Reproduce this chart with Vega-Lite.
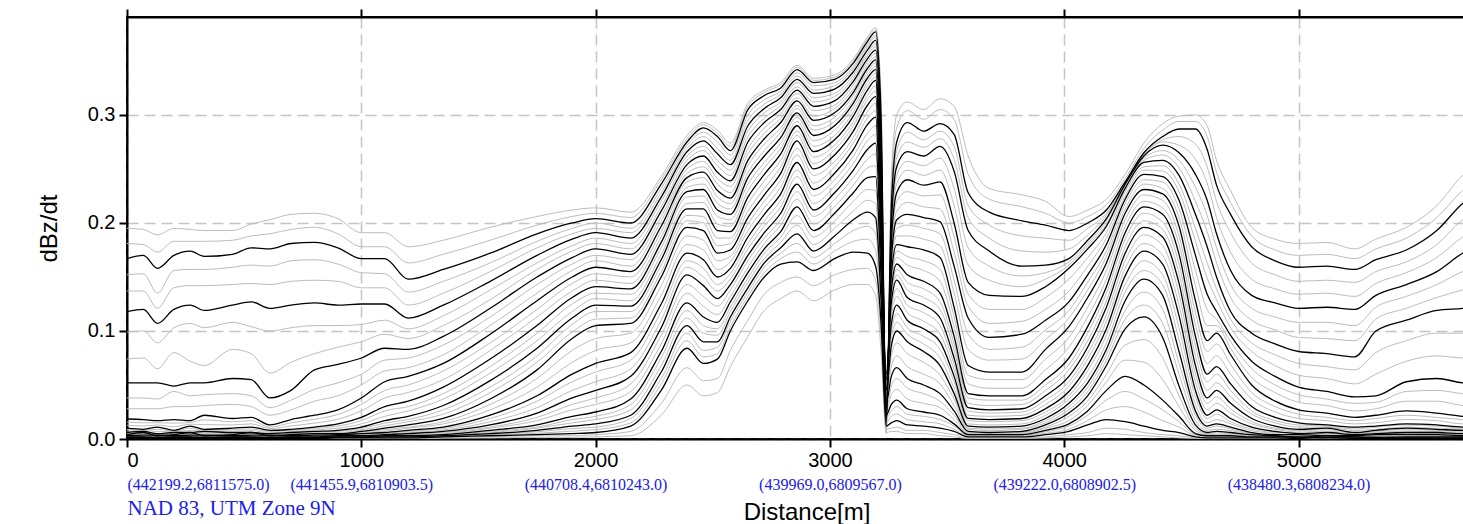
{
"$schema":"https://vega.github.io/schema/vega-lite/v6.json",
"width":1359,"height":422,
"autosize":"none",
"padding":{"left":127,"top":17,"right":0,"bottom":85},
"background":"white",
"config":{"view":{"stroke":"black","strokeWidth":2},"font":"Liberation Sans"},
"datasets":{"d":[
{"x":0,"g01":0.195,"g02":0.181,"k01":0.167,"g03":0.152,"g04":0.137,"k02":0.118,"g05":0.099,"g06":0.074,"k03":0.052,"g07":0.038,"g08":0.028,"k04":0.0185,"g09":0.0157,"g10":0.0128,"k05":0.010,"g11":0.0087,"g12":0.0073,"k06":0.006,"g13":0.0053,"g14":0.0047,"k07":0.004,"g15":0.0037,"g16":0.0033,"k08":0.003,"g17":0.0027,"g18":0.0023,"k09":0.002,"g19":0.0018,"g20":0.0017,"k10":0.0015,"g21":0.0013,"g22":0.0012,"k11":0.001,"g23":0.0008,"g24":0.0007,"k12":0.0005,"g25":0.0003,"g26":0.0001},
{"x":70,"g01":0.194,"g02":0.180,"k01":0.170,"g03":0.153,"g04":0.137,"k02":0.120,"g05":0.100,"g06":0.075,"k03":0.052,"g07":0.038,"g08":0.028,"k04":0.018,"g09":0.015,"g10":0.012,"k05":0.009,"g11":0.0083,"g12":0.0077,"k06":0.007,"g13":0.006,"g14":0.005,"k07":0.006,"g15":0.005,"g16":0.004,"k08":0.0035,"g17":0.003,"g18":0.0025,"k09":0.002,"g19":0.0018,"g20":0.0016,"k10":0.0014,"g21":0.0012,"g22":0.001,"k11":0.0009,"g23":0.0007,"g24":0.0005,"k12":0.0004,"g25":0.0002,"g26":0.0001},
{"x":130,"g01":0.189,"g02":0.173,"k01":0.158,"g03":0.135,"g04":0.121,"k02":0.107,"g05":0.089,"g06":0.065,"k03":0.052,"g07":0.037,"g08":0.028,"k04":0.017,"g09":0.015,"g10":0.013,"k05":0.011,"g11":0.009,"g12":0.007,"k06":0.005,"g13":0.0047,"g14":0.0043,"k07":0.003,"g15":0.0045,"g16":0.002,"k08":0.0035,"g17":0.0015,"g18":0.003,"k09":0.001,"g19":0.002,"g20":0.0012,"k10":0.0018,"g21":0.0008,"g22":0.0014,"k11":0.0006,"g23":0.001,"g24":0.0004,"k12":0.0007,"g25":0.0002,"g26":0.0003},
{"x":200,"g01":0.195,"g02":0.183,"k01":0.170,"g03":0.156,"g04":0.140,"k02":0.120,"g05":0.103,"g06":0.080,"k03":0.049,"g07":0.044,"g08":0.030,"k04":0.018,"g09":0.0147,"g10":0.0113,"k05":0.008,"g11":0.0073,"g12":0.0067,"k06":0.006,"g13":0.0057,"g14":0.0053,"k07":0.004,"g15":0.0037,"g16":0.0033,"k08":0.003,"g17":0.0027,"g18":0.0023,"k09":0.002,"g19":0.0018,"g20":0.0017,"k10":0.0015,"g21":0.0013,"g22":0.0012,"k11":0.001,"g23":0.0008,"g24":0.0007,"k12":0.0005,"g25":0.0003,"g26":0.0001},
{"x":270,"g01":0.194,"g02":0.183,"k01":0.174,"g03":0.157,"g04":0.142,"k02":0.124,"g05":0.107,"g06":0.072,"k03":0.052,"g07":0.040,"g08":0.030,"k04":0.017,"g09":0.0153,"g10":0.0137,"k05":0.012,"g11":0.010,"g12":0.008,"k06":0.006,"g13":0.0053,"g14":0.0047,"k07":0.006,"g15":0.005,"g16":0.004,"k08":0.0035,"g17":0.003,"g18":0.0025,"k09":0.002,"g19":0.0018,"g20":0.0016,"k10":0.0014,"g21":0.0012,"g22":0.001,"k11":0.0009,"g23":0.0007,"g24":0.0005,"k12":0.0004,"g25":0.0002,"g26":0.0001},
{"x":330,"g01":0.193,"g02":0.183,"k01":0.169,"g03":0.157,"g04":0.142,"k02":0.119,"g05":0.103,"g06":0.068,"k03":0.052,"g07":0.041,"g08":0.031,"k04":0.022,"g09":0.0177,"g10":0.0133,"k05":0.009,"g11":0.0083,"g12":0.0077,"k06":0.007,"g13":0.006,"g14":0.005,"k07":0.003,"g15":0.0045,"g16":0.002,"k08":0.0035,"g17":0.0015,"g18":0.003,"k09":0.001,"g19":0.002,"g20":0.0012,"k10":0.0018,"g21":0.0008,"g22":0.0014,"k11":0.0006,"g23":0.001,"g24":0.0004,"k12":0.0007,"g25":0.0002,"g26":0.0003},
{"x":450,"g01":0.193,"g02":0.184,"k01":0.171,"g03":0.159,"g04":0.143,"k02":0.124,"g05":0.108,"g06":0.083,"k03":0.056,"g07":0.042,"g08":0.032,"k04":0.019,"g09":0.016,"g10":0.013,"k05":0.010,"g11":0.0087,"g12":0.0073,"k06":0.006,"g13":0.0053,"g14":0.0047,"k07":0.004,"g15":0.0037,"g16":0.0033,"k08":0.003,"g17":0.0027,"g18":0.0023,"k09":0.002,"g19":0.0018,"g20":0.0017,"k10":0.0015,"g21":0.0013,"g22":0.0012,"k11":0.001,"g23":0.0008,"g24":0.0007,"k12":0.0005,"g25":0.0003,"g26":0.0001},
{"x":530,"g01":0.199,"g02":0.188,"k01":0.177,"g03":0.161,"g04":0.144,"k02":0.127,"g05":0.104,"g06":0.079,"k03":0.055,"g07":0.040,"g08":0.030,"k04":0.020,"g09":0.017,"g10":0.014,"k05":0.011,"g11":0.0093,"g12":0.0077,"k06":0.006,"g13":0.0057,"g14":0.0053,"k07":0.006,"g15":0.005,"g16":0.004,"k08":0.0035,"g17":0.003,"g18":0.0025,"k09":0.002,"g19":0.0018,"g20":0.0016,"k10":0.0014,"g21":0.0012,"g22":0.001,"k11":0.0009,"g23":0.0007,"g24":0.0005,"k12":0.0004,"g25":0.0002,"g26":0.0001},
{"x":610,"g01":0.203,"g02":0.190,"k01":0.176,"g03":0.160,"g04":0.143,"k02":0.121,"g05":0.100,"g06":0.061,"k03":0.038,"g07":0.029,"g08":0.022,"k04":0.013,"g09":0.011,"g10":0.0097,"k05":0.008,"g11":0.007,"g12":0.006,"k06":0.005,"g13":0.0043,"g14":0.0037,"k07":0.003,"g15":0.0045,"g16":0.002,"k08":0.0035,"g17":0.0015,"g18":0.003,"k09":0.001,"g19":0.002,"g20":0.0012,"k10":0.0018,"g21":0.0008,"g22":0.0014,"k11":0.0006,"g23":0.001,"g24":0.0004,"k12":0.0007,"g25":0.0002,"g26":0.0003},
{"x":700,"g01":0.208,"g02":0.194,"k01":0.181,"g03":0.165,"g04":0.146,"k02":0.124,"g05":0.103,"g06":0.071,"k03":0.045,"g07":0.036,"g08":0.027,"k04":0.018,"g09":0.015,"g10":0.012,"k05":0.009,"g11":0.008,"g12":0.007,"k06":0.006,"g13":0.0053,"g14":0.0047,"k07":0.004,"g15":0.0037,"g16":0.0033,"k08":0.003,"g17":0.0027,"g18":0.0023,"k09":0.002,"g19":0.0018,"g20":0.0017,"k10":0.0015,"g21":0.0013,"g22":0.0012,"k11":0.001,"g23":0.0008,"g24":0.0007,"k12":0.0005,"g25":0.0003,"g26":0.0001},
{"x":800,"g01":0.209,"g02":0.196,"k01":0.182,"g03":0.166,"g04":0.147,"k02":0.126,"g05":0.105,"g06":0.079,"k03":0.064,"g07":0.046,"g08":0.035,"k04":0.022,"g09":0.0183,"g10":0.0147,"k05":0.011,"g11":0.0097,"g12":0.0083,"k06":0.007,"g13":0.0063,"g14":0.0057,"k07":0.005,"g15":0.0045,"g16":0.004,"k08":0.0035,"g17":0.003,"g18":0.0025,"k09":0.002,"g19":0.0018,"g20":0.0016,"k10":0.0014,"g21":0.0012,"g22":0.001,"k11":0.0009,"g23":0.0007,"g24":0.0005,"k12":0.0004,"g25":0.0002,"g26":0.0001},
{"x":900,"g01":0.204,"g02":0.190,"k01":0.177,"g03":0.162,"g04":0.146,"k02":0.124,"g05":0.105,"g06":0.085,"k03":0.069,"g07":0.052,"g08":0.040,"k04":0.027,"g09":0.0227,"g10":0.0183,"k05":0.014,"g11":0.012,"g12":0.010,"k06":0.008,"g13":0.007,"g14":0.006,"k07":0.005,"g15":0.0047,"g16":0.0043,"k08":0.004,"g17":0.0037,"g18":0.0033,"k09":0.003,"g19":0.0027,"g20":0.0023,"k10":0.002,"g21":0.0018,"g22":0.0017,"k11":0.0015,"g23":0.0013,"g24":0.0012,"k12":0.001,"g25":0.0007,"g26":0.0003},
{"x":1000,"g01":0.191,"g02":0.178,"k01":0.167,"g03":0.154,"g04":0.140,"k02":0.125,"g05":0.106,"g06":0.090,"k03":0.075,"g07":0.060,"g08":0.050,"k04":0.038,"g09":0.032,"g10":0.026,"k05":0.020,"g11":0.017,"g12":0.014,"k06":0.011,"g13":0.0097,"g14":0.0083,"k07":0.007,"g15":0.0063,"g16":0.0057,"k08":0.005,"g17":0.0043,"g18":0.0037,"k09":0.003,"g19":0.0027,"g20":0.0023,"k10":0.002,"g21":0.0018,"g22":0.0017,"k11":0.0015,"g23":0.0013,"g24":0.0012,"k12":0.001,"g25":0.0007,"g26":0.0003},
{"x":1100,"g01":0.191,"g02":0.178,"k01":0.167,"g03":0.153,"g04":0.140,"k02":0.125,"g05":0.110,"g06":0.097,"k03":0.084,"g07":0.073,"g08":0.063,"k04":0.053,"g09":0.045,"g10":0.038,"k05":0.030,"g11":0.026,"g12":0.021,"k06":0.017,"g13":0.0147,"g14":0.0123,"k07":0.010,"g15":0.0087,"g16":0.0073,"k08":0.006,"g17":0.0053,"g18":0.0047,"k09":0.004,"g19":0.0037,"g20":0.0033,"k10":0.003,"g21":0.0027,"g22":0.0023,"k11":0.002,"g23":0.0017,"g24":0.0013,"k12":0.001,"g25":0.0007,"g26":0.0003},
{"x":1200,"g01":0.178,"g02":0.163,"k01":0.148,"g03":0.136,"g04":0.124,"k02":0.112,"g05":0.102,"g06":0.093,"k03":0.083,"g07":0.075,"g08":0.066,"k04":0.058,"g09":0.050,"g10":0.043,"k05":0.035,"g11":0.030,"g12":0.026,"k06":0.021,"g13":0.018,"g14":0.016,"k07":0.013,"g15":0.011,"g16":0.010,"k08":0.008,"g17":0.007,"g18":0.006,"k09":0.005,"g19":0.0043,"g20":0.0037,"k10":0.003,"g21":0.0027,"g22":0.0023,"k11":0.002,"g23":0.0017,"g24":0.0013,"k12":0.001,"g25":0.0007,"g26":0.0003},
{"x":1350,"g01":0.184,"g02":0.171,"k01":0.157,"g03":0.146,"g04":0.135,"k02":0.124,"g05":0.114,"g06":0.105,"k03":0.095,"g07":0.087,"g08":0.078,"k04":0.070,"g09":0.063,"g10":0.055,"k05":0.048,"g11":0.042,"g12":0.037,"k06":0.031,"g13":0.027,"g14":0.023,"k07":0.019,"g15":0.016,"g16":0.014,"k08":0.011,"g17":0.0097,"g18":0.0083,"k09":0.007,"g19":0.006,"g20":0.005,"k10":0.004,"g21":0.0037,"g22":0.0033,"k11":0.003,"g23":0.0027,"g24":0.0023,"k12":0.002,"g25":0.0013,"g26":0.0007},
{"x":1550,"g01":0.196,"g02":0.184,"k01":0.172,"g03":0.163,"g04":0.155,"k02":0.146,"g05":0.138,"g06":0.129,"k03":0.121,"g07":0.113,"g08":0.105,"k04":0.097,"g09":0.089,"g10":0.082,"k05":0.074,"g11":0.067,"g12":0.061,"k06":0.054,"g13":0.048,"g14":0.043,"k07":0.037,"g15":0.032,"g16":0.027,"k08":0.022,"g17":0.019,"g18":0.016,"k09":0.013,"g19":0.011,"g20":0.010,"k10":0.008,"g21":0.007,"g22":0.006,"k11":0.005,"g23":0.0043,"g24":0.0037,"k12":0.003,"g25":0.002,"g26":0.001},
{"x":1750,"g01":0.206,"g02":0.198,"k01":0.190,"g03":0.183,"g04":0.177,"k02":0.170,"g05":0.163,"g06":0.157,"k03":0.150,"g07":0.143,"g08":0.135,"k04":0.128,"g09":0.120,"g10":0.113,"k05":0.105,"g11":0.098,"g12":0.091,"k06":0.084,"g13":0.077,"g14":0.071,"k07":0.064,"g15":0.056,"g16":0.048,"k08":0.040,"g17":0.035,"g18":0.029,"k09":0.024,"g19":0.020,"g20":0.017,"k10":0.013,"g21":0.011,"g22":0.010,"k11":0.008,"g23":0.0067,"g24":0.0053,"k12":0.004,"g25":0.003,"g26":0.0015},
{"x":1900,"g01":0.212,"g02":0.206,"k01":0.200,"g03":0.195,"g04":0.190,"k02":0.185,"g05":0.179,"g06":0.174,"k03":0.168,"g07":0.162,"g08":0.156,"k04":0.150,"g09":0.144,"g10":0.137,"k05":0.131,"g11":0.125,"g12":0.118,"k06":0.112,"g13":0.106,"g14":0.099,"k07":0.093,"g15":0.082,"g16":0.071,"k08":0.060,"g17":0.053,"g18":0.045,"k09":0.038,"g19":0.032,"g20":0.027,"k10":0.021,"g21":0.018,"g22":0.015,"k11":0.012,"g23":0.0097,"g24":0.0073,"k12":0.005,"g25":0.003,"g26":0.0015},
{"x":2000,"g01":0.214,"g02":0.209,"k01":0.204,"g03":0.200,"g04":0.195,"k02":0.191,"g05":0.186,"g06":0.181,"k03":0.176,"g07":0.170,"g08":0.165,"k04":0.159,"g09":0.153,"g10":0.147,"k05":0.141,"g11":0.135,"g12":0.130,"k06":0.124,"g13":0.118,"g14":0.111,"k07":0.105,"g15":0.093,"g16":0.082,"k08":0.070,"g17":0.062,"g18":0.053,"k09":0.045,"g19":0.038,"g20":0.032,"k10":0.025,"g21":0.021,"g22":0.018,"k11":0.014,"g23":0.011,"g24":0.0087,"k12":0.006,"g25":0.004,"g26":0.002},
{"x":2150,"g01":0.210,"g02":0.205,"k01":0.200,"g03":0.195,"g04":0.191,"k02":0.186,"g05":0.181,"g06":0.176,"k03":0.171,"g07":0.166,"g08":0.160,"k04":0.155,"g09":0.150,"g10":0.144,"k05":0.139,"g11":0.134,"g12":0.128,"k06":0.123,"g13":0.118,"g14":0.112,"k07":0.107,"g15":0.098,"g16":0.089,"k08":0.080,"g17":0.073,"g18":0.065,"k09":0.058,"g19":0.051,"g20":0.044,"k10":0.037,"g21":0.032,"g22":0.027,"k11":0.022,"g23":0.019,"g24":0.015,"k12":0.012,"g25":0.007,"g26":0.003},
{"x":2280,"g01":0.243,"g02":0.240,"k01":0.236,"g03":0.232,"g04":0.228,"k02":0.224,"g05":0.220,"g06":0.215,"k03":0.211,"g07":0.206,"g08":0.202,"k04":0.197,"g09":0.192,"g10":0.187,"k05":0.182,"g11":0.177,"g12":0.171,"k06":0.166,"g13":0.161,"g14":0.155,"k07":0.150,"g15":0.142,"g16":0.133,"k08":0.125,"g17":0.118,"g18":0.110,"k09":0.103,"g19":0.096,"g20":0.088,"k10":0.081,"g21":0.075,"g22":0.068,"k11":0.062,"g23":0.056,"g24":0.051,"k12":0.045,"g25":0.033,"g26":0.022},
{"x":2390,"g01":0.281,"g02":0.278,"k01":0.275,"g03":0.272,"g04":0.269,"k02":0.266,"g05":0.262,"g06":0.258,"k03":0.254,"g07":0.250,"g08":0.246,"k04":0.242,"g09":0.238,"g10":0.233,"k05":0.229,"g11":0.224,"g12":0.218,"k06":0.213,"g13":0.207,"g14":0.202,"k07":0.196,"g15":0.188,"g16":0.180,"k08":0.172,"g17":0.165,"g18":0.159,"k09":0.152,"g19":0.143,"g20":0.135,"k10":0.126,"g21":0.119,"g22":0.112,"k11":0.105,"g23":0.098,"g24":0.091,"k12":0.084,"g25":0.066,"g26":0.050},
{"x":2460,"g01":0.293,"g02":0.291,"k01":0.288,"g03":0.284,"g04":0.280,"k02":0.276,"g05":0.271,"g06":0.267,"k03":0.262,"g07":0.257,"g08":0.252,"k04":0.247,"g09":0.242,"g10":0.236,"k05":0.231,"g11":0.225,"g12":0.219,"k06":0.213,"g13":0.206,"g14":0.200,"k07":0.193,"g15":0.184,"g16":0.175,"k08":0.166,"g17":0.158,"g18":0.150,"k09":0.142,"g19":0.132,"g20":0.123,"k10":0.113,"g21":0.105,"g22":0.098,"k11":0.090,"g23":0.082,"g24":0.076,"k12":0.070,"g25":0.054,"g26":0.040},
{"x":2520,"g01":0.286,"g02":0.283,"k01":0.280,"g03":0.275,"g04":0.269,"k02":0.264,"g05":0.258,"g06":0.253,"k03":0.247,"g07":0.241,"g08":0.236,"k04":0.230,"g09":0.224,"g10":0.218,"k05":0.212,"g11":0.206,"g12":0.199,"k06":0.193,"g13":0.186,"g14":0.179,"k07":0.172,"g15":0.165,"g16":0.157,"k08":0.150,"g17":0.143,"g18":0.137,"k09":0.130,"g19":0.123,"g20":0.115,"k10":0.108,"g21":0.102,"g22":0.096,"k11":0.090,"g23":0.085,"g24":0.079,"k12":0.074,"g25":0.056,"g26":0.043},
{"x":2575,"g01":0.274,"g02":0.271,"k01":0.267,"g03":0.263,"g04":0.258,"k02":0.254,"g05":0.249,"g06":0.244,"k03":0.239,"g07":0.234,"g08":0.228,"k04":0.223,"g09":0.218,"g10":0.213,"k05":0.208,"g11":0.203,"g12":0.197,"k06":0.192,"g13":0.186,"g14":0.181,"k07":0.175,"g15":0.169,"g16":0.164,"k08":0.158,"g17":0.153,"g18":0.148,"k09":0.143,"g19":0.138,"g20":0.132,"k10":0.127,"g21":0.122,"g22":0.118,"k11":0.113,"g23":0.109,"g24":0.104,"k12":0.100,"g25":0.082,"g26":0.067},
{"x":2650,"g01":0.311,"g02":0.308,"k01":0.305,"g03":0.300,"g04":0.295,"k02":0.290,"g05":0.285,"g06":0.280,"k03":0.275,"g07":0.269,"g08":0.264,"k04":0.258,"g09":0.253,"g10":0.247,"k05":0.242,"g11":0.236,"g12":0.230,"k06":0.224,"g13":0.218,"g14":0.211,"k07":0.205,"g15":0.199,"g16":0.193,"k08":0.187,"g17":0.181,"g18":0.176,"k09":0.170,"g19":0.165,"g20":0.159,"k10":0.154,"g21":0.149,"g22":0.145,"k11":0.140,"g23":0.136,"g24":0.132,"k12":0.128,"g25":0.110,"g26":0.095},
{"x":2720,"g01":0.323,"g02":0.321,"k01":0.318,"g03":0.314,"g04":0.310,"k02":0.306,"g05":0.302,"g06":0.297,"k03":0.293,"g07":0.288,"g08":0.283,"k04":0.278,"g09":0.273,"g10":0.267,"k05":0.262,"g11":0.256,"g12":0.251,"k06":0.245,"g13":0.239,"g14":0.232,"k07":0.226,"g15":0.220,"g16":0.214,"k08":0.208,"g17":0.202,"g18":0.197,"k09":0.191,"g19":0.186,"g20":0.181,"k10":0.176,"g21":0.172,"g22":0.167,"k11":0.163,"g23":0.159,"g24":0.154,"k12":0.150,"g25":0.134,"g26":0.119},
{"x":2790,"g01":0.330,"g02":0.328,"k01":0.325,"g03":0.322,"g04":0.319,"k02":0.316,"g05":0.312,"g06":0.309,"k03":0.305,"g07":0.301,"g08":0.297,"k04":0.293,"g09":0.288,"g10":0.284,"k05":0.279,"g11":0.274,"g12":0.269,"k06":0.264,"g13":0.258,"g14":0.252,"k07":0.246,"g15":0.240,"g16":0.233,"k08":0.227,"g17":0.221,"g18":0.215,"k09":0.209,"g19":0.203,"g20":0.198,"k10":0.192,"g21":0.187,"g22":0.182,"k11":0.177,"g23":0.172,"g24":0.167,"k12":0.162,"g25":0.145,"g26":0.130},
{"x":2860,"g01":0.346,"g02":0.344,"k01":0.342,"g03":0.339,"g04":0.336,"k02":0.333,"g05":0.330,"g06":0.326,"k03":0.323,"g07":0.320,"g08":0.316,"k04":0.313,"g09":0.309,"g10":0.306,"k05":0.302,"g11":0.298,"g12":0.294,"k06":0.290,"g13":0.285,"g14":0.281,"k07":0.276,"g15":0.269,"g16":0.263,"k08":0.256,"g17":0.249,"g18":0.243,"k09":0.236,"g19":0.229,"g20":0.222,"k10":0.215,"g21":0.207,"g22":0.198,"k11":0.190,"g23":0.181,"g24":0.173,"k12":0.164,"g25":0.150,"g26":0.137},
{"x":2930,"g01":0.334,"g02":0.332,"k01":0.330,"g03":0.327,"g04":0.323,"k02":0.320,"g05":0.316,"g06":0.312,"k03":0.308,"g07":0.304,"g08":0.299,"k04":0.295,"g09":0.290,"g10":0.286,"k05":0.281,"g11":0.276,"g12":0.271,"k06":0.266,"g13":0.261,"g14":0.255,"k07":0.250,"g15":0.244,"g16":0.237,"k08":0.231,"g17":0.225,"g18":0.218,"k09":0.212,"g19":0.206,"g20":0.199,"k10":0.193,"g21":0.187,"g22":0.180,"k11":0.174,"g23":0.168,"g24":0.162,"k12":0.156,"g25":0.142,"g26":0.128},
{"x":3020,"g01":0.337,"g02":0.335,"k01":0.333,"g03":0.330,"g04":0.327,"k02":0.324,"g05":0.320,"g06":0.317,"k03":0.313,"g07":0.309,"g08":0.306,"k04":0.302,"g09":0.298,"g10":0.294,"k05":0.290,"g11":0.286,"g12":0.281,"k06":0.277,"g13":0.272,"g14":0.268,"k07":0.263,"g15":0.257,"g16":0.252,"k08":0.246,"g17":0.240,"g18":0.234,"k09":0.228,"g19":0.222,"g20":0.215,"k10":0.209,"g21":0.202,"g22":0.195,"k11":0.188,"g23":0.181,"g24":0.174,"k12":0.167,"g25":0.152,"g26":0.138},
{"x":3100,"g01":0.352,"g02":0.350,"k01":0.348,"g03":0.345,"g04":0.343,"k02":0.340,"g05":0.337,"g06":0.334,"k03":0.331,"g07":0.328,"g08":0.324,"k04":0.321,"g09":0.318,"g10":0.314,"k05":0.311,"g11":0.307,"g12":0.303,"k06":0.299,"g13":0.294,"g14":0.290,"k07":0.285,"g15":0.279,"g16":0.274,"k08":0.268,"g17":0.262,"g18":0.255,"k09":0.249,"g19":0.242,"g20":0.235,"k10":0.228,"g21":0.220,"g22":0.211,"k11":0.203,"g23":0.193,"g24":0.183,"k12":0.173,"g25":0.157,"g26":0.143},
{"x":3160,"g01":0.372,"g02":0.370,"k01":0.368,"g03":0.365,"g04":0.363,"k02":0.360,"g05":0.357,"g06":0.355,"k03":0.352,"g07":0.349,"g08":0.346,"k04":0.343,"g09":0.340,"g10":0.337,"k05":0.334,"g11":0.330,"g12":0.327,"k06":0.323,"g13":0.318,"g14":0.314,"k07":0.309,"g15":0.303,"g16":0.297,"k08":0.291,"g17":0.283,"g18":0.276,"k09":0.268,"g19":0.259,"g20":0.251,"k10":0.242,"g21":0.231,"g22":0.221,"k11":0.210,"g23":0.197,"g24":0.185,"k12":0.172,"g25":0.158,"g26":0.143},
{"x":3195,"g01":0.381,"g02":0.379,"k01":0.377,"g03":0.374,"g04":0.372,"k02":0.369,"g05":0.366,"g06":0.363,"k03":0.360,"g07":0.357,"g08":0.354,"k04":0.351,"g09":0.348,"g10":0.345,"k05":0.342,"g11":0.339,"g12":0.335,"k06":0.332,"g13":0.327,"g14":0.322,"k07":0.317,"g15":0.311,"g16":0.304,"k08":0.298,"g17":0.290,"g18":0.282,"k09":0.274,"g19":0.264,"g20":0.253,"k10":0.243,"g21":0.230,"g22":0.218,"k11":0.205,"g23":0.190,"g24":0.175,"k12":0.160,"g25":0.147,"g26":0.133},
{"x":3218,"g01":0.320,"g02":0.310,"k01":0.300,"g03":0.295,"g04":0.290,"k02":0.285,"g05":0.280,"g06":0.275,"k03":0.270,"g07":0.265,"g08":0.260,"k04":0.255,"g09":0.250,"g10":0.245,"k05":0.240,"g11":0.235,"g12":0.230,"k06":0.225,"g13":0.219,"g14":0.214,"k07":0.208,"g15":0.202,"g16":0.196,"k08":0.190,"g17":0.184,"g18":0.178,"k09":0.172,"g19":0.165,"g20":0.159,"k10":0.152,"g21":0.145,"g22":0.137,"k11":0.130,"g23":0.123,"g24":0.115,"k12":0.108,"g25":0.095,"g26":0.082},
{"x":3240,"g01":0.005,"g02":0.008,"k01":0.012,"g03":0.013,"g04":0.015,"k02":0.016,"g05":0.017,"g06":0.019,"k03":0.020,"g07":0.022,"g08":0.024,"k04":0.026,"g09":0.029,"g10":0.031,"k05":0.034,"g11":0.038,"g12":0.042,"k06":0.046,"g13":0.051,"g14":0.055,"k07":0.060,"g15":0.058,"g16":0.057,"k08":0.055,"g17":0.052,"g18":0.048,"k09":0.045,"g19":0.041,"g20":0.037,"k10":0.033,"g21":0.029,"g22":0.026,"k11":0.022,"g23":0.019,"g24":0.015,"k12":0.012,"g25":0.009,"g26":0.006},
{"x":3262,"g01":0.240,"g02":0.228,"k01":0.215,"g03":0.209,"g04":0.204,"k02":0.198,"g05":0.193,"g06":0.187,"k03":0.182,"g07":0.177,"g08":0.171,"k04":0.166,"g09":0.161,"g10":0.157,"k05":0.152,"g11":0.147,"g12":0.143,"k06":0.138,"g13":0.134,"g14":0.130,"k07":0.126,"g15":0.119,"g16":0.113,"k08":0.106,"g17":0.099,"g18":0.093,"k09":0.086,"g19":0.077,"g20":0.067,"k10":0.058,"g21":0.049,"g22":0.041,"k11":0.032,"g23":0.026,"g24":0.021,"k12":0.015,"g25":0.010,"g26":0.007},
{"x":3285,"g01":0.300,"g02":0.288,"k01":0.275,"g03":0.267,"g04":0.260,"k02":0.252,"g05":0.244,"g06":0.236,"k03":0.228,"g07":0.220,"g08":0.211,"k04":0.203,"g09":0.195,"g10":0.188,"k05":0.180,"g11":0.174,"g12":0.168,"k06":0.162,"g13":0.157,"g14":0.152,"k07":0.147,"g15":0.139,"g16":0.132,"k08":0.124,"g17":0.116,"g18":0.108,"k09":0.100,"g19":0.089,"g20":0.077,"k10":0.066,"g21":0.056,"g22":0.046,"k11":0.036,"g23":0.030,"g24":0.023,"k12":0.017,"g25":0.011,"g26":0.007},
{"x":3330,"g01":0.312,"g02":0.304,"k01":0.293,"g03":0.284,"g04":0.275,"k02":0.266,"g05":0.257,"g06":0.249,"k03":0.240,"g07":0.229,"g08":0.219,"k04":0.208,"g09":0.198,"g10":0.188,"k05":0.178,"g11":0.169,"g12":0.161,"k06":0.152,"g13":0.145,"g14":0.138,"k07":0.131,"g15":0.124,"g16":0.117,"k08":0.110,"g17":0.103,"g18":0.097,"k09":0.090,"g19":0.079,"g20":0.067,"k10":0.056,"g21":0.047,"g22":0.037,"k11":0.028,"g23":0.023,"g24":0.018,"k12":0.013,"g25":0.008,"g26":0.005},
{"x":3400,"g01":0.305,"g02":0.296,"k01":0.285,"g03":0.277,"g04":0.270,"k02":0.262,"g05":0.253,"g06":0.244,"k03":0.235,"g07":0.225,"g08":0.215,"k04":0.205,"g09":0.195,"g10":0.185,"k05":0.175,"g11":0.165,"g12":0.156,"k06":0.146,"g13":0.139,"g14":0.131,"k07":0.124,"g15":0.117,"g16":0.109,"k08":0.102,"g17":0.095,"g18":0.088,"k09":0.081,"g19":0.071,"g20":0.060,"k10":0.050,"g21":0.042,"g22":0.033,"k11":0.025,"g23":0.021,"g24":0.016,"k12":0.012,"g25":0.008,"g26":0.005},
{"x":3470,"g01":0.315,"g02":0.305,"k01":0.292,"g03":0.285,"g04":0.278,"k02":0.271,"g05":0.260,"g06":0.249,"k03":0.238,"g07":0.226,"g08":0.213,"k04":0.201,"g09":0.190,"g10":0.179,"k05":0.168,"g11":0.157,"g12":0.146,"k06":0.135,"g13":0.127,"g14":0.120,"k07":0.112,"g15":0.105,"g16":0.097,"k08":0.090,"g17":0.083,"g18":0.075,"k09":0.068,"g19":0.059,"g20":0.051,"k10":0.042,"g21":0.035,"g22":0.029,"k11":0.022,"g23":0.018,"g24":0.014,"k12":0.010,"g25":0.006,"g26":0.003},
{"x":3530,"g01":0.308,"g02":0.296,"k01":0.282,"g03":0.271,"g04":0.259,"k02":0.248,"g05":0.232,"g06":0.216,"k03":0.200,"g07":0.187,"g08":0.173,"k04":0.160,"g09":0.147,"g10":0.135,"k05":0.122,"g11":0.113,"g12":0.104,"k06":0.095,"g13":0.088,"g14":0.082,"k07":0.075,"g15":0.069,"g16":0.064,"k08":0.058,"g17":0.053,"g18":0.047,"k09":0.042,"g19":0.037,"g20":0.031,"k10":0.026,"g21":0.022,"g22":0.018,"k11":0.014,"g23":0.012,"g24":0.009,"k12":0.007,"g25":0.004,"g26":0.002},
{"x":3590,"g01":0.262,"g02":0.245,"k01":0.228,"g03":0.216,"g04":0.205,"k02":0.193,"g05":0.177,"g06":0.161,"k03":0.145,"g07":0.134,"g08":0.123,"k04":0.112,"g09":0.097,"g10":0.083,"k05":0.068,"g11":0.059,"g12":0.051,"k06":0.042,"g13":0.038,"g14":0.033,"k07":0.029,"g15":0.026,"g16":0.022,"k08":0.019,"g17":0.017,"g18":0.014,"k09":0.012,"g19":0.010,"g20":0.009,"k10":0.007,"g21":0.006,"g22":0.005,"k11":0.004,"g23":0.0033,"g24":0.0027,"k12":0.002,"g25":0.001,"g26":0.0005},
{"x":3680,"g01":0.232,"g02":0.222,"k01":0.210,"g03":0.198,"g04":0.186,"k02":0.174,"g05":0.160,"g06":0.147,"k03":0.133,"g07":0.120,"g08":0.107,"k04":0.094,"g09":0.083,"g10":0.073,"k05":0.062,"g11":0.055,"g12":0.047,"k06":0.040,"g13":0.036,"g14":0.031,"k07":0.027,"g15":0.024,"g16":0.021,"k08":0.018,"g17":0.016,"g18":0.013,"k09":0.011,"g19":0.0093,"g20":0.0077,"k10":0.006,"g21":0.0053,"g22":0.0047,"k11":0.004,"g23":0.0033,"g24":0.0027,"k12":0.002,"g25":0.001,"g26":0.0005},
{"x":3820,"g01":0.226,"g02":0.215,"k01":0.202,"g03":0.188,"g04":0.174,"k02":0.160,"g05":0.151,"g06":0.141,"k03":0.132,"g07":0.120,"g08":0.109,"k04":0.097,"g09":0.085,"g10":0.074,"k05":0.062,"g11":0.055,"g12":0.047,"k06":0.040,"g13":0.036,"g14":0.032,"k07":0.028,"g15":0.025,"g16":0.022,"k08":0.019,"g17":0.017,"g18":0.014,"k09":0.012,"g19":0.010,"g20":0.009,"k10":0.007,"g21":0.006,"g22":0.005,"k11":0.004,"g23":0.0033,"g24":0.0027,"k12":0.002,"g25":0.001,"g26":0.0005},
{"x":3920,"g01":0.220,"g02":0.209,"k01":0.198,"g03":0.186,"g04":0.173,"k02":0.161,"g05":0.154,"g06":0.148,"k03":0.141,"g07":0.131,"g08":0.120,"k04":0.110,"g09":0.101,"g10":0.092,"k05":0.083,"g11":0.074,"g12":0.064,"k06":0.055,"g13":0.050,"g14":0.045,"k07":0.040,"g15":0.036,"g16":0.032,"k08":0.028,"g17":0.025,"g18":0.022,"k09":0.019,"g19":0.017,"g20":0.015,"k10":0.013,"g21":0.011,"g22":0.010,"k11":0.008,"g23":0.0067,"g24":0.0053,"k12":0.004,"g25":0.002,"g26":0.001},
{"x":4020,"g01":0.206,"g02":0.200,"k01":0.193,"g03":0.184,"g04":0.176,"k02":0.167,"g05":0.164,"g06":0.161,"k03":0.158,"g07":0.148,"g08":0.137,"k04":0.127,"g09":0.119,"g10":0.112,"k05":0.104,"g11":0.094,"g12":0.085,"k06":0.075,"g13":0.069,"g14":0.064,"k07":0.058,"g15":0.053,"g16":0.049,"k08":0.044,"g17":0.040,"g18":0.037,"k09":0.033,"g19":0.030,"g20":0.027,"k10":0.024,"g21":0.021,"g22":0.017,"k11":0.014,"g23":0.012,"g24":0.009,"k12":0.007,"g25":0.004,"g26":0.002},
{"x":4100,"g01":0.212,"g02":0.206,"k01":0.200,"g03":0.195,"g04":0.189,"k02":0.184,"g05":0.181,"g06":0.179,"k03":0.176,"g07":0.168,"g08":0.160,"k04":0.152,"g09":0.145,"g10":0.138,"k05":0.131,"g11":0.122,"g12":0.113,"k06":0.104,"g13":0.098,"g14":0.091,"k07":0.085,"g15":0.079,"g16":0.074,"k08":0.068,"g17":0.063,"g18":0.057,"k09":0.052,"g19":0.048,"g20":0.044,"k10":0.040,"g21":0.035,"g22":0.031,"k11":0.026,"g23":0.022,"g24":0.017,"k12":0.013,"g25":0.006,"g26":0.003},
{"x":4180,"g01":0.222,"g02":0.217,"k01":0.212,"g03":0.209,"g04":0.207,"k02":0.204,"g05":0.202,"g06":0.199,"k03":0.197,"g07":0.191,"g08":0.186,"k04":0.180,"g09":0.174,"g10":0.169,"k05":0.163,"g11":0.156,"g12":0.148,"k06":0.141,"g13":0.135,"g14":0.128,"k07":0.122,"g15":0.115,"g16":0.109,"k08":0.102,"g17":0.096,"g18":0.089,"k09":0.083,"g19":0.078,"g20":0.073,"k10":0.068,"g21":0.060,"g22":0.053,"k11":0.045,"g23":0.036,"g24":0.027,"k12":0.018,"g25":0.010,"g26":0.005},
{"x":4260,"g01":0.245,"g02":0.241,"k01":0.238,"g03":0.237,"g04":0.237,"k02":0.236,"g05":0.235,"g06":0.233,"k03":0.232,"g07":0.229,"g08":0.225,"k04":0.222,"g09":0.218,"g10":0.213,"k05":0.209,"g11":0.203,"g12":0.197,"k06":0.191,"g13":0.185,"g14":0.178,"k07":0.172,"g15":0.165,"g16":0.158,"k08":0.151,"g17":0.143,"g18":0.136,"k09":0.128,"g19":0.119,"g20":0.111,"k10":0.102,"g21":0.087,"g22":0.073,"k11":0.058,"g23":0.044,"g24":0.030,"k12":0.016,"g25":0.009,"g26":0.004},
{"x":4340,"g01":0.274,"g02":0.269,"k01":0.265,"g03":0.264,"g04":0.263,"k02":0.262,"g05":0.260,"g06":0.258,"k03":0.256,"g07":0.252,"g08":0.249,"k04":0.245,"g09":0.240,"g10":0.236,"k05":0.231,"g11":0.226,"g12":0.220,"k06":0.215,"g13":0.209,"g14":0.202,"k07":0.196,"g15":0.189,"g16":0.181,"k08":0.174,"g17":0.165,"g18":0.156,"k09":0.148,"g19":0.136,"g20":0.124,"k10":0.113,"g21":0.092,"g22":0.071,"k11":0.050,"g23":0.037,"g24":0.025,"k12":0.012,"g25":0.006,"g26":0.003},
{"x":4420,"g01":0.292,"g02":0.286,"k01":0.280,"g03":0.277,"g04":0.275,"k02":0.272,"g05":0.267,"g06":0.263,"k03":0.258,"g07":0.253,"g08":0.248,"k04":0.243,"g09":0.238,"g10":0.232,"k05":0.227,"g11":0.221,"g12":0.214,"k06":0.208,"g13":0.201,"g14":0.194,"k07":0.187,"g15":0.179,"g16":0.170,"k08":0.162,"g17":0.152,"g18":0.143,"k09":0.133,"g19":0.120,"g20":0.107,"k10":0.094,"g21":0.075,"g22":0.055,"k11":0.036,"g23":0.027,"g24":0.017,"k12":0.008,"g25":0.004,"g26":0.002},
{"x":4490,"g01":0.299,"g02":0.294,"k01":0.287,"g03":0.280,"g04":0.272,"k02":0.265,"g05":0.258,"g06":0.251,"k03":0.244,"g07":0.236,"g08":0.229,"k04":0.221,"g09":0.213,"g10":0.205,"k05":0.197,"g11":0.188,"g12":0.180,"k06":0.171,"g13":0.162,"g14":0.153,"k07":0.144,"g15":0.134,"g16":0.124,"k08":0.114,"g17":0.103,"g18":0.092,"k09":0.081,"g19":0.070,"g20":0.060,"k10":0.049,"g21":0.040,"g22":0.030,"k11":0.021,"g23":0.016,"g24":0.011,"k12":0.006,"g25":0.003,"g26":0.001},
{"x":4560,"g01":0.300,"g02":0.294,"k01":0.287,"g03":0.273,"g04":0.259,"k02":0.245,"g05":0.233,"g06":0.220,"k03":0.208,"g07":0.195,"g08":0.183,"k04":0.170,"g09":0.156,"g10":0.142,"k05":0.128,"g11":0.117,"g12":0.106,"k06":0.095,"g13":0.086,"g14":0.077,"k07":0.068,"g15":0.060,"g16":0.053,"k08":0.045,"g17":0.039,"g18":0.032,"k09":0.026,"g19":0.022,"g20":0.017,"k10":0.013,"g21":0.010,"g22":0.008,"k11":0.005,"g23":0.004,"g24":0.003,"k12":0.002,"g25":0.001,"g26":0.0005},
{"x":4610,"g01":0.290,"g02":0.280,"k01":0.268,"g03":0.252,"g04":0.237,"k02":0.221,"g05":0.207,"g06":0.192,"k03":0.178,"g07":0.163,"g08":0.149,"k04":0.134,"g09":0.120,"g10":0.105,"k05":0.091,"g11":0.081,"g12":0.070,"k06":0.060,"g13":0.053,"g14":0.045,"k07":0.038,"g15":0.033,"g16":0.027,"k08":0.022,"g17":0.019,"g18":0.015,"k09":0.012,"g19":0.010,"g20":0.008,"k10":0.006,"g21":0.005,"g22":0.004,"k11":0.003,"g23":0.0023,"g24":0.0017,"k12":0.001,"g25":0.0005,"g26":0.0002},
{"x":4650,"g01":0.258,"g02":0.247,"k01":0.235,"g03":0.220,"g04":0.205,"k02":0.190,"g05":0.177,"g06":0.163,"k03":0.150,"g07":0.139,"g08":0.129,"k04":0.118,"g09":0.111,"g10":0.105,"k05":0.098,"g11":0.088,"g12":0.077,"k06":0.067,"g13":0.060,"g14":0.052,"k07":0.045,"g15":0.039,"g16":0.033,"k08":0.027,"g17":0.023,"g18":0.018,"k09":0.014,"g19":0.012,"g20":0.009,"k10":0.007,"g21":0.0057,"g22":0.0043,"k11":0.003,"g23":0.0023,"g24":0.0017,"k12":0.001,"g25":0.0005,"g26":0.0002},
{"x":4710,"g01":0.230,"g02":0.219,"k01":0.208,"g03":0.191,"g04":0.173,"k02":0.156,"g05":0.143,"g06":0.131,"k03":0.118,"g07":0.111,"g08":0.103,"k04":0.096,"g09":0.090,"g10":0.084,"k05":0.078,"g11":0.069,"g12":0.060,"k06":0.051,"g13":0.045,"g14":0.039,"k07":0.033,"g15":0.028,"g16":0.024,"k08":0.019,"g17":0.016,"g18":0.014,"k09":0.011,"g19":0.0093,"g20":0.0077,"k10":0.006,"g21":0.005,"g22":0.004,"k11":0.003,"g23":0.0023,"g24":0.0017,"k12":0.001,"g25":0.0005,"g26":0.0002},
{"x":4800,"g01":0.196,"g02":0.188,"k01":0.178,"g03":0.163,"g04":0.148,"k02":0.133,"g05":0.121,"g06":0.110,"k03":0.098,"g07":0.089,"g08":0.081,"k04":0.072,"g09":0.065,"g10":0.057,"k05":0.050,"g11":0.043,"g12":0.037,"k06":0.030,"g13":0.026,"g14":0.023,"k07":0.019,"g15":0.016,"g16":0.014,"k08":0.011,"g17":0.0093,"g18":0.0077,"k09":0.006,"g19":0.0053,"g20":0.0047,"k10":0.004,"g21":0.0033,"g22":0.0027,"k11":0.002,"g23":0.0017,"g24":0.0013,"k12":0.001,"g25":0.0005,"g26":0.0002},
{"x":4900,"g01":0.185,"g02":0.175,"k01":0.165,"g03":0.152,"g04":0.139,"k02":0.126,"g05":0.113,"g06":0.101,"k03":0.088,"g07":0.078,"g08":0.068,"k04":0.058,"g09":0.050,"g10":0.043,"k05":0.035,"g11":0.030,"g12":0.025,"k06":0.020,"g13":0.017,"g14":0.015,"k07":0.012,"g15":0.010,"g16":0.009,"k08":0.007,"g17":0.006,"g18":0.005,"k09":0.004,"g19":0.0037,"g20":0.0033,"k10":0.003,"g21":0.0027,"g22":0.0023,"k11":0.002,"g23":0.0017,"g24":0.0013,"k12":0.001,"g25":0.0005,"g26":0.0002},
{"x":5000,"g01":0.181,"g02":0.170,"k01":0.159,"g03":0.146,"g04":0.134,"k02":0.121,"g05":0.108,"g06":0.094,"k03":0.081,"g07":0.070,"g08":0.059,"k04":0.048,"g09":0.041,"g10":0.034,"k05":0.027,"g11":0.023,"g12":0.019,"k06":0.015,"g13":0.013,"g14":0.011,"k07":0.009,"g15":0.0077,"g16":0.0063,"k08":0.005,"g17":0.006,"g18":0.003,"k09":0.004,"g19":0.002,"g20":0.003,"k10":0.0015,"g21":0.0025,"g22":0.001,"k11":0.002,"g23":0.0008,"g24":0.0015,"k12":0.0005,"g25":0.001,"g26":0.0002},
{"x":5120,"g01":0.182,"g02":0.171,"k01":0.160,"g03":0.147,"g04":0.135,"k02":0.122,"g05":0.108,"g06":0.093,"k03":0.079,"g07":0.067,"g08":0.056,"k04":0.044,"g09":0.037,"g10":0.031,"k05":0.024,"g11":0.020,"g12":0.017,"k06":0.013,"g13":0.012,"g14":0.011,"k07":0.010,"g15":0.0087,"g16":0.0073,"k08":0.006,"g17":0.004,"g18":0.0055,"k09":0.003,"g19":0.004,"g20":0.002,"k10":0.003,"g21":0.0015,"g22":0.0025,"k11":0.001,"g23":0.002,"g24":0.0008,"k12":0.0015,"g25":0.0005,"g26":0.001},
{"x":5240,"g01":0.176,"g02":0.167,"k01":0.157,"g03":0.145,"g04":0.132,"k02":0.120,"g05":0.105,"g06":0.091,"k03":0.076,"g07":0.064,"g08":0.051,"k04":0.039,"g09":0.033,"g10":0.026,"k05":0.020,"g11":0.017,"g12":0.014,"k06":0.011,"g13":0.0093,"g14":0.0077,"k07":0.006,"g15":0.0053,"g16":0.0047,"k08":0.004,"g17":0.0037,"g18":0.0033,"k09":0.003,"g19":0.0027,"g20":0.0023,"k10":0.002,"g21":0.0017,"g22":0.0013,"k11":0.001,"g23":0.0008,"g24":0.0007,"k12":0.0005,"g25":0.0003,"g26":0.0001},
{"x":5330,"g01":0.185,"g02":0.176,"k01":0.166,"g03":0.155,"g04":0.144,"k02":0.133,"g05":0.122,"g06":0.111,"k03":0.100,"g07":0.080,"g08":0.060,"k04":0.040,"g09":0.034,"g10":0.028,"k05":0.022,"g11":0.019,"g12":0.015,"k06":0.012,"g13":0.011,"g14":0.009,"k07":0.008,"g15":0.007,"g16":0.006,"k08":0.005,"g17":0.006,"g18":0.0035,"k09":0.004,"g19":0.0022,"g20":0.003,"k10":0.0015,"g21":0.002,"g22":0.001,"k11":0.0015,"g23":0.0008,"g24":0.001,"k12":0.0005,"g25":0.0007,"g26":0.0002},
{"x":5460,"g01":0.196,"g02":0.186,"k01":0.175,"g03":0.164,"g04":0.154,"k02":0.143,"g05":0.132,"g06":0.121,"k03":0.110,"g07":0.091,"g08":0.072,"k04":0.053,"g09":0.044,"g10":0.035,"k05":0.026,"g11":0.022,"g12":0.018,"k06":0.014,"g13":0.013,"g14":0.011,"k07":0.010,"g15":0.0087,"g16":0.0073,"k08":0.006,"g17":0.0047,"g18":0.0043,"k09":0.004,"g19":0.0027,"g20":0.0023,"k10":0.002,"g21":0.0017,"g22":0.0013,"k11":0.001,"g23":0.0008,"g24":0.0007,"k12":0.0005,"g25":0.0003,"g26":0.0001},
{"x":5590,"g01":0.216,"g02":0.205,"k01":0.193,"g03":0.180,"g04":0.168,"k02":0.155,"g05":0.143,"g06":0.131,"k03":0.119,"g07":0.098,"g08":0.077,"k04":0.056,"g09":0.045,"g10":0.035,"k05":0.024,"g11":0.020,"g12":0.017,"k06":0.013,"g13":0.012,"g14":0.010,"k07":0.009,"g15":0.008,"g16":0.007,"k08":0.006,"g17":0.0053,"g18":0.0047,"k09":0.004,"g19":0.003,"g20":0.0025,"k10":0.002,"g21":0.0017,"g22":0.0013,"k11":0.001,"g23":0.0008,"g24":0.0007,"k12":0.0005,"g25":0.0003,"g26":0.0001},
{"x":5700,"g01":0.244,"g02":0.230,"k01":0.218,"g03":0.203,"g04":0.187,"k02":0.172,"g05":0.155,"g06":0.138,"k03":0.121,"g07":0.098,"g08":0.075,"k04":0.052,"g09":0.042,"g10":0.031,"k05":0.021,"g11":0.018,"g12":0.014,"k06":0.011,"g13":0.010,"g14":0.009,"k07":0.008,"g15":0.007,"g16":0.006,"k08":0.005,"g17":0.0043,"g18":0.0037,"k09":0.003,"g19":0.0027,"g20":0.0023,"k10":0.002,"g21":0.0017,"g22":0.0013,"k11":0.001,"g23":0.0008,"g24":0.0007,"k12":0.0005,"g25":0.0003,"g26":0.0001},
{"x":5800,"g01":0.258,"g02":0.245,"k01":0.232,"g03":0.215,"g04":0.199,"k02":0.182,"g05":0.163,"g06":0.143,"k03":0.124,"g07":0.100,"g08":0.075,"k04":0.051,"g09":0.041,"g10":0.030,"k05":0.020,"g11":0.017,"g12":0.014,"k06":0.011,"g13":0.010,"g14":0.009,"k07":0.008,"g15":0.007,"g16":0.006,"k08":0.005,"g17":0.0043,"g18":0.0037,"k09":0.003,"g19":0.0027,"g20":0.0023,"k10":0.002,"g21":0.0017,"g22":0.0013,"k11":0.001,"g23":0.0008,"g24":0.0007,"k12":0.0005,"g25":0.0003,"g26":0.0001}
]},
"data":{"name":"d"},
"layer":[
{"transform":[{"fold":["g01","g02","g03","g04","g05","g06","g07","g08","g09","g10","g11","g12","g13"],"as":["key","value"]}],
 "mark":{"type":"line","color":"#bdbdbd","strokeWidth":1,"interpolate":"monotone","clip":true},
 "encoding":{
  "x":{"field":"x","type":"quantitative","scale":{"domain":[0,5800],"nice":false,"zero":false},
       "axis":{"orient":"bottom","values":[0,1000,2000,3000,4000,5000],"format":"d","labelFont":"Liberation Sans","labelFontSize":20,"labelColor":"black","labelPadding":3,"tickSize":8,"tickWidth":2,"tickColor":"black","domainColor":"black","domainWidth":2,"grid":true,"gridDash":[11,6],"gridColor":"#c4c4c4","gridWidth":1.5,"title":"NAD 83, UTM Zone 9N","titleAnchor":"start","titleAlign":"left","titleFont":"Liberation Serif","titleFontSize":21,"titleFontWeight":"normal","titleColor":"#2020e6","titlePadding":27}},
  "y":{"field":"value","type":"quantitative","scale":{"domain":[0,0.3907],"nice":false},
       "axis":{"orient":"left","values":[0,0.1,0.2,0.3],"format":".1f","labelFont":"Liberation Sans","labelFontSize":20,"labelColor":"black","labelPadding":4,"tickSize":8,"tickWidth":2,"tickColor":"black","domainColor":"black","domainWidth":2,"grid":true,"gridDash":[11,6],"gridColor":"#c4c4c4","gridWidth":1.5,"title":"dBz/dt","titleFont":"Liberation Sans","titleFontSize":24,"titleFontWeight":"normal","titleColor":"black","titlePadding":26}},
  "detail":{"field":"key"}}},
{"transform":[{"fold":["g14","g15","g16","g17","g18","g19","g20","g21","g22","g23","g24","g25","g26"],"as":["key","value"]}],
 "mark":{"type":"line","color":"#bdbdbd","strokeWidth":1,"interpolate":"monotone","clip":true},
 "encoding":{
  "x":{"field":"x","type":"quantitative","scale":{"domain":[0,5800],"nice":false,"zero":false},
       "axis":{"orient":"top","values":[0,1000,2000,3000,4000,5000],"labels":false,"tickSize":8,"tickWidth":2,"tickColor":"black","domainColor":"black","domainWidth":2,"grid":false,"title":null}},
  "y":{"field":"value","type":"quantitative","scale":{"domain":[0,0.3907],"nice":false},"axis":null},
  "detail":{"field":"key"}}},
{"transform":[{"fold":["k01","k02","k03","k04","k05","k06","k07","k08","k09","k10","k11","k12"],"as":["key","value"]}],
 "mark":{"type":"line","color":"black","strokeWidth":1.3,"interpolate":"monotone","clip":true},
 "encoding":{
  "x":{"field":"x","type":"quantitative","scale":{"domain":[0,5800],"nice":false,"zero":false},
       "axis":{"orient":"bottom","values":[0,1000,2000,3000,4000,5000],"labelExpr":"datum.value == 0 ? '(442199.2,6811575.0)' : datum.value == 1000 ? '(441455.9,6810903.5)' : datum.value == 2000 ? '(440708.4,6810243.0)' : datum.value == 3000 ? '(439969.0,6809567.0)' : datum.value == 4000 ? '(439222.0,6808902.5)' : '(438480.3,6808234.0)'","labelFont":"Liberation Serif","labelFontSize":16,"labelColor":"#2020e6","labelPadding":37,"ticks":false,"domain":false,"grid":false,"labelOverlap":false,"title":"Distance[m]","titleFont":"Liberation Sans","titleFontSize":24,"titleFontWeight":"normal","titleColor":"black","titlePadding":8}},
  "y":{"field":"value","type":"quantitative","scale":{"domain":[0,0.3907],"nice":false},"axis":null},
  "detail":{"field":"key"}}}
],
"resolve":{"axis":{"x":"independent","y":"independent"}}
}
